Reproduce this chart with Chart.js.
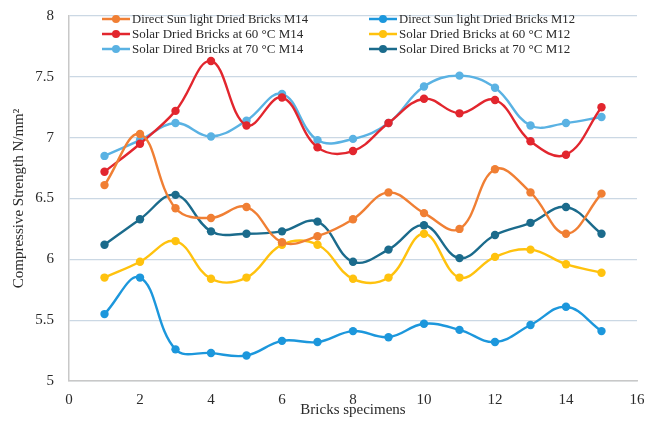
<!DOCTYPE html>
<html>
<head>
<meta charset="utf-8">
<script src="https://cdn.jsdelivr.net/npm/chart.js@4/dist/chart.umd.min.js"></script>
<style>
html,body{margin:0;padding:0;background:#fff;}
#wrap{width:646px;height:421px;position:relative;}
</style>
</head>
<body>
<div id="wrap"><canvas id="c" width="646" height="421"></canvas></div>
<script>
const specimens = [1,2,3,4,5,6,7,8,9,10,11,12,13,14,15];
const directM14 = [6.61,7.03,6.42,6.34,6.43,6.14,6.19,6.33,6.55,6.38,6.25,6.74,6.55,6.21,6.54];
const directM12 = [5.55,5.85,5.26,5.23,5.21,5.33,5.32,5.41,5.36,5.47,5.42,5.32,5.46,5.61,5.41];
const solar60M14 = [6.72,6.95,7.22,7.63,7.10,7.33,6.92,6.89,7.12,7.32,7.20,7.31,6.97,6.86,7.25];
const solar60M12 = [5.85,5.98,6.15,5.84,5.85,6.12,6.12,5.84,5.85,6.21,5.85,6.02,6.08,5.96,5.89];
const solar70M14 = [6.85,6.98,7.12,7.01,7.14,7.36,6.98,6.99,7.12,7.42,7.51,7.41,7.10,7.12,7.17];
const solar70M12 = [6.12,6.33,6.53,6.23,6.21,6.23,6.31,5.98,6.08,6.28,6.01,6.20,6.30,6.43,6.21];
const seriesNames = [
  "Direct Sun light Dried Bricks M14",
  "Direct Sun light Dried Bricks M12",
  "Solar Dried Bricks at 60 \u00B0C M14",
  "Solar Dried Bricks at 60 \u00B0C M12",
  "Solar Dired Bricks at 70 \u00B0C M14",
  "Solar Dired Bricks at 70 \u00B0C M12"
];
const yTicks = [5,5.5,6,6.5,7,7.5,8];
const xTicks = [0,2,4,6,8,10,12,14,16];

const colors = ["#F07F34","#1C97DC","#E2262E","#FFC20E","#5AB2E3","#1B6B8C"];
const seriesValues = [directM14,directM12,solar60M14,solar60M12,solar70M14,solar70M12];

const datasets = seriesValues.map((vals,i)=>({
  label: seriesNames[i],
  data: specimens.map((x,j)=>({x:x,y:vals[j]})),
  borderColor: colors[i],
  backgroundColor: colors[i],
  borderWidth: 2.4,
  pointRadius: 4.2,
  pointBorderWidth: 0,
  pointHoverRadius: 4.2,
  tension: 0.4,
  fill: false
}));

const legendPlugin = {
  id: 'customLegend',
  afterDraw(chart){
    const ctx = chart.ctx;
    ctx.save();
    const cols = [102, 369];
    const rows = [19, 34, 49];
    ctx.font = '13px "Liberation Serif"';
    ctx.textBaseline = 'middle';
    for(let i=0;i<6;i++){
      const cx = cols[i%2], cy = rows[Math.floor(i/2)];
      ctx.strokeStyle = colors[i];
      ctx.lineWidth = 2.5;
      ctx.beginPath(); ctx.moveTo(cx,cy); ctx.lineTo(cx+28,cy); ctx.stroke();
      ctx.fillStyle = colors[i];
      ctx.beginPath(); ctx.arc(cx+14,cy,4,0,Math.PI*2); ctx.fill();
      ctx.fillStyle = '#2a2a2a';
      ctx.fillText(seriesNames[i], cx+30, cy+1, 176);
    }
    ctx.restore();
  }
};

new Chart(document.getElementById('c'), {
  type: 'line',
  data: { datasets },
  plugins: [legendPlugin],
  options: {
    responsive: false,
    animation: false,
    layout: { padding: { top: 16, right: 9, left: 0, bottom: 0 } },
    plugins: { legend: { display: false }, tooltip: { enabled: false } },
    scales: {
      x: {
        type: 'linear', min: 0, max: 16,
        afterBuildTicks(s){ s.ticks = xTicks.map(v=>({value:v})); },
        afterFit(s){ s.height = 40; s.paddingLeft = 0; s.paddingRight = 0; s.paddingTop = 0; s.paddingBottom = 0; },
        grid: { display: false, drawTicks: false },
        border: { display: true, color: '#c8c8c8', width: 1.5 },
        ticks: { color: '#2a2a2a', font: { family: 'Liberation Serif', size: 15 }, padding: 10,
          callback: v => String(v) },
        title: { display: true, text: 'Bricks specimens', color: '#2a2a2a',
          font: { family: 'Liberation Serif', size: 15 }, padding: { top: 0, bottom: 2 } }
      },
      y: {
        min: 5, max: 8,
        afterBuildTicks(s){ s.ticks = yTicks.map(v=>({value:v})); },
        afterFit(s){ s.width = 69; s.paddingLeft = 0; s.paddingRight = 0; s.paddingTop = 0; s.paddingBottom = 0; },
        grid: { color: '#cbd8e4', lineWidth: 1.2, drawTicks: false },
        border: { display: true, color: '#c8c8c8', width: 1.5 },
        ticks: { color: '#2a2a2a', font: { family: 'Liberation Serif', size: 15 }, padding: 15,
          callback: v => String(v) },
        title: { display: true, text: 'Compressive Strength N/mm\u00B2', color: '#2a2a2a',
          font: { family: 'Liberation Serif', size: 15 }, padding: { top: 10, bottom: 0 } }
      }
    }
  }
});
</script>
</body>
</html>
